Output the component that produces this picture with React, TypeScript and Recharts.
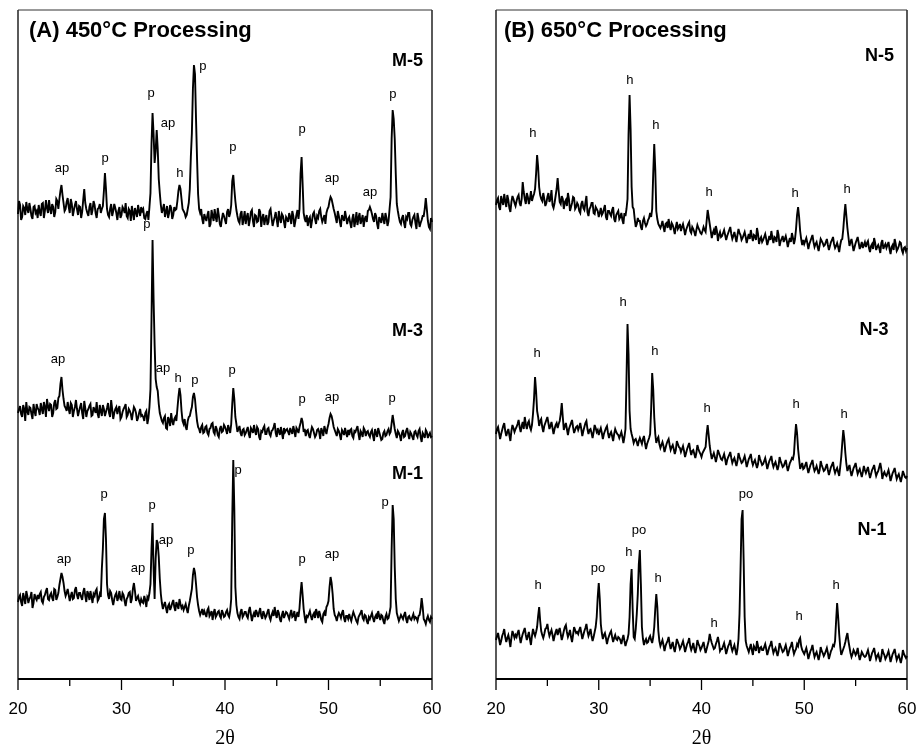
import React from 'react';
import { LineChart, Line, XAxis, YAxis, ReferenceLine, ReferenceDot } from 'recharts';

// 2θ sampling grid (degrees): even steps and the in-between readings
const TWO_THETA = [
  20, 20.2, 20.4, 20.6, 20.8, 21, 21.2, 21.4, 21.6, 21.8,
  22, 22.2, 22.4, 22.6, 22.8, 23, 23.2, 23.4, 23.6, 23.8,
  24, 24.2, 24.4, 24.6, 24.8, 25, 25.2, 25.4, 25.6, 25.8,
  26, 26.2, 26.4, 26.6, 26.8, 27, 27.2, 27.4, 27.6, 27.8,
  28, 28.2, 28.4, 28.6, 28.8, 29, 29.2, 29.4, 29.6, 29.8,
  30, 30.2, 30.4, 30.6, 30.8, 31, 31.2, 31.4, 31.6, 31.8,
  32, 32.2, 32.4, 32.6, 32.8, 33, 33.2, 33.4, 33.6, 33.8,
  34, 34.2, 34.4, 34.6, 34.8, 35, 35.2, 35.4, 35.6, 35.8,
  36, 36.2, 36.4, 36.6, 36.8, 37, 37.2, 37.4, 37.6, 37.8,
  38, 38.2, 38.4, 38.6, 38.8, 39, 39.2, 39.4, 39.6, 39.8,
  40, 40.2, 40.4, 40.6, 40.8, 41, 41.2, 41.4, 41.6, 41.8,
  42, 42.2, 42.4, 42.6, 42.8, 43, 43.2, 43.4, 43.6, 43.8,
  44, 44.2, 44.4, 44.6, 44.8, 45, 45.2, 45.4, 45.6, 45.8,
  46, 46.2, 46.4, 46.6, 46.8, 47, 47.2, 47.4, 47.6, 47.8,
  48, 48.2, 48.4, 48.6, 48.8, 49, 49.2, 49.4, 49.6, 49.8,
  50, 50.2, 50.4, 50.6, 50.8, 51, 51.2, 51.4, 51.6, 51.8,
  52, 52.2, 52.4, 52.6, 52.8, 53, 53.2, 53.4, 53.6, 53.8,
  54, 54.2, 54.4, 54.6, 54.8, 55, 55.2, 55.4, 55.6, 55.8,
  56, 56.2, 56.4, 56.6, 56.8, 57, 57.2, 57.4, 57.6, 57.8,
  58, 58.2, 58.4, 58.6, 58.8, 59, 59.2, 59.4, 59.6, 59.8,
  60,
];
const TWO_THETA_MID = [
  20.1, 20.3, 20.5, 20.7, 20.9, 21.1, 21.3, 21.5, 21.7, 21.9,
  22.1, 22.3, 22.5, 22.7, 22.9, 23.1, 23.3, 23.5, 23.7, 23.9,
  24.1, 24.3, 24.5, 24.7, 24.9, 25.1, 25.3, 25.5, 25.7, 25.9,
  26.1, 26.3, 26.5, 26.7, 26.9, 27.1, 27.3, 27.5, 27.7, 27.9,
  28.1, 28.3, 28.5, 28.7, 28.9, 29.1, 29.3, 29.5, 29.7, 29.9,
  30.1, 30.3, 30.5, 30.7, 30.9, 31.1, 31.3, 31.5, 31.7, 31.9,
  32.1, 32.3, 32.5, 32.7, 32.9, 33.1, 33.3, 33.5, 33.7, 33.9,
  34.1, 34.3, 34.5, 34.7, 34.9, 35.1, 35.3, 35.5, 35.7, 35.9,
  36.1, 36.3, 36.5, 36.7, 36.9, 37.1, 37.3, 37.5, 37.7, 37.9,
  38.1, 38.3, 38.5, 38.7, 38.9, 39.1, 39.3, 39.5, 39.7, 39.9,
  40.1, 40.3, 40.5, 40.7, 40.9, 41.1, 41.3, 41.5, 41.7, 41.9,
  42.1, 42.3, 42.5, 42.7, 42.9, 43.1, 43.3, 43.5, 43.7, 43.9,
  44.1, 44.3, 44.5, 44.7, 44.9, 45.1, 45.3, 45.5, 45.7, 45.9,
  46.1, 46.3, 46.5, 46.7, 46.9, 47.1, 47.3, 47.5, 47.7, 47.9,
  48.1, 48.3, 48.5, 48.7, 48.9, 49.1, 49.3, 49.5, 49.7, 49.9,
  50.1, 50.3, 50.5, 50.7, 50.9, 51.1, 51.3, 51.5, 51.7, 51.9,
  52.1, 52.3, 52.5, 52.7, 52.9, 53.1, 53.3, 53.5, 53.7, 53.9,
  54.1, 54.3, 54.5, 54.7, 54.9, 55.1, 55.3, 55.5, 55.7, 55.9,
  56.1, 56.3, 56.5, 56.7, 56.9, 57.1, 57.3, 57.5, 57.7, 57.9,
  58.1, 58.3, 58.5, 58.7, 58.9, 59.1, 59.3, 59.5, 59.7, 59.9,
];

// Panel A (450°C) intensities, stacked (a.u.)
const M5 = [
  465, 474, 462, 471, 477, 466, 470, 460, 473, 468,
  474, 463, 476, 468, 471, 479, 465, 472, 467, 478,
  480, 494, 476, 470, 481, 466, 475, 469, 478, 464,
  472, 467, 490, 470, 463, 476, 469, 474, 461, 471,
  466, 473, 506, 470, 462, 475, 468, 471, 459, 472,
  464, 470, 476, 461, 468, 473, 459, 467, 474, 463,
  468, 461, 465, 459, 486, 566, 516, 549, 500, 474,
  470, 462, 473, 466, 471, 464, 469, 478, 494, 480,
  468, 462, 470, 490, 546, 614, 560, 485, 466, 460,
  465, 458, 468, 455, 463, 470, 457, 464, 452, 466,
  459, 467, 462, 474, 504, 478, 463, 456, 468, 460,
  455, 466, 459, 469, 452, 463, 458, 467, 461, 454,
  464, 457, 470, 453, 462, 459, 468, 456, 463, 451,
  460, 466, 455, 463, 458, 469, 470, 522, 466, 457,
  453, 462, 458, 467, 455, 461, 470, 457, 464, 466,
  472, 482, 475, 466, 456, 463, 452, 461, 468, 455,
  462, 451, 465, 458, 454, 466, 459, 452, 463, 468,
  472, 465, 457, 463, 450, 459, 466, 455, 461, 458,
  482, 569, 540, 475, 462, 455, 464, 451, 460, 466,
  453, 462, 456, 466, 452, 459, 463, 481, 458, 450,
  457,
];
const M5_MID = [
  478, 459, 473, 464, 470, 476, 463, 472, 466, 461,
  467, 475, 461, 479, 466, 470, 475, 462, 480, 470,
  488, 484, 468, 477, 472, 480, 463, 474, 470, 473,
  461, 479, 476, 466, 472, 464, 478, 466, 470, 475,
  470, 488, 490, 464, 470, 463, 475, 466, 468, 461,
  472, 466, 463, 470, 458, 466, 471, 462, 468, 472,
  470, 460, 468, 472, 535, 545, 528, 530, 486, 466,
  475, 467, 461, 474, 460, 472, 470, 488, 490, 470,
  466, 464, 476, 522, 590, 605, 520, 470, 470, 455,
  461, 464, 452, 469, 458, 462, 471, 455, 460, 463,
  455, 470, 466, 498, 490, 469, 458, 465, 454, 468,
  462, 453, 467, 458, 464, 457, 470, 452, 465, 460,
  454, 468, 461, 458, 467, 452, 461, 465, 457, 462,
  457, 462, 468, 452, 464, 460, 505, 495, 460, 464,
  460, 451, 465, 460, 463, 468, 462, 460, 455, 470,
  478, 480, 470, 461, 468, 457, 464, 458, 462, 460,
  456, 460, 452, 467, 461, 455, 464, 460, 457, 469,
  469, 460, 466, 455, 462, 456, 460, 466, 453, 470,
  540, 560, 505, 468, 457, 461, 456, 462, 466, 455,
  459, 464, 450, 460, 456, 463, 470, 470, 452, 461,
];
const M3 = [
  266, 273, 262, 270, 277, 264, 271, 260, 268, 275,
  269, 276, 265, 272, 280, 268, 274, 266, 279, 271,
  283, 302, 280, 271, 277, 265, 274, 268, 279, 263,
  272, 266, 278, 262, 270, 275, 264, 269, 277, 261,
  268, 274, 263, 271, 266, 279, 260, 270, 265, 273,
  262, 270, 275, 264, 268, 259, 272, 266, 261, 270,
  264, 258, 268, 261, 290, 439, 334, 292, 275, 262,
  256, 263, 250, 259, 266, 254, 262, 270, 291, 268,
  255, 252, 258, 263, 272, 286, 268, 252, 246, 254,
  247, 253, 244, 251, 256, 245, 250, 242, 253, 248,
  252, 245, 250, 255, 291, 262, 247, 253, 243, 250,
  246, 252, 241, 249, 254, 244, 250, 239, 247, 253,
  245, 251, 243, 249, 256, 242, 248, 252, 240, 247,
  250, 244, 248, 253, 242, 249, 252, 261, 247, 243,
  249, 241, 252, 246, 244, 250, 240, 248, 253, 245,
  255, 265, 258, 249, 243, 248, 239, 247, 251, 242,
  244, 250, 241, 247, 253, 239, 246, 251, 243, 248,
  242, 249, 238, 246, 251, 243, 240, 248, 244, 250,
  247, 264, 250, 241, 246, 238, 249, 243, 251, 240,
  245, 239, 248, 242, 250, 237, 244, 249, 241, 246,
  243,
];
const M3_MID = [
  270, 265, 274, 258, 268, 272, 265, 275, 263, 271,
  264, 270, 277, 262, 273, 275, 262, 276, 270, 281,
  295, 289, 273, 268, 270, 276, 262, 272, 270, 268,
  276, 260, 271, 268, 273, 263, 272, 266, 265, 274,
  263, 270, 267, 276, 262, 270, 266, 272, 270, 260,
  267, 272, 262, 270, 265, 266, 270, 258, 266, 263,
  262, 266, 255, 272, 360, 380, 300, 288, 266, 258,
  261, 251, 262, 253, 258, 260, 258, 282, 284, 258,
  260, 249, 262, 268, 282, 280, 258, 250, 252, 246,
  252, 246, 250, 255, 247, 253, 244, 250, 247, 254,
  249, 254, 246, 275, 280, 255, 250, 246, 249, 244,
  249, 245, 251, 246, 248, 252, 242, 248, 251, 245,
  250, 245, 248, 252, 246, 251, 244, 246, 251, 249,
  247, 251, 245, 248, 251, 246, 256, 257, 250, 248,
  244, 247, 250, 242, 249, 247, 251, 243, 249, 251,
  261, 263, 252, 246, 250, 244, 249, 244, 246, 249,
  249, 243, 248, 250, 245, 248, 242, 249, 247, 244,
  247, 243, 250, 242, 247, 239, 246, 243, 248, 245,
  256, 257, 245, 248, 243, 246, 242, 248, 245, 247,
  242, 247, 244, 248, 242, 246, 241, 247, 244, 242,
];
const M1 = [
  77, 84, 73, 81, 88, 76, 82, 71, 85, 79,
  80, 87, 76, 84, 91, 79, 86, 78, 89, 82,
  94, 106, 96, 83, 90, 78, 87, 81, 92, 80,
  86, 79, 91, 77, 85, 88, 76, 83, 90, 80,
  82, 130, 166, 95, 80, 86, 74, 84, 78, 88,
  79, 84, 73, 82, 87, 80, 96, 78, 83, 75,
  77, 83, 72, 80, 95, 156, 80, 139, 122, 85,
  70, 77, 66, 75, 72, 79, 68, 74, 80, 71,
  69, 75, 66, 78, 90, 111, 95, 74, 64, 70,
  68, 62, 71, 65, 59, 70, 64, 68, 61, 66,
  63, 69, 62, 80, 219, 92, 66, 60, 70, 64,
  67, 61, 72, 58, 66, 69, 62, 71, 60, 65,
  63, 70, 59, 67, 72, 61, 66, 57, 68, 64,
  66, 60, 69, 63, 58, 67, 71, 97, 70, 56,
  62, 68, 59, 66, 70, 61, 64, 57, 67, 72,
  78, 102, 85, 64, 58, 66, 61, 69, 57, 63,
  65, 58, 67, 61, 56, 64, 69, 59, 63, 55,
  60, 66, 57, 64, 68, 59, 63, 55, 65, 61,
  72, 174, 112, 66, 58, 64, 60, 67, 56, 63,
  59, 65, 62, 58, 64, 81, 60, 55, 63, 57,
  60,
];
const M1_MID = [
  82, 77, 86, 75, 83, 80, 87, 76, 81, 84,
  85, 78, 82, 88, 80, 84, 81, 90, 79, 86,
  100, 102, 88, 86, 84, 83, 80, 89, 84, 86,
  82, 87, 83, 88, 79, 82, 85, 88, 78, 85,
  110, 160, 140, 84, 88, 79, 80, 86, 82, 80,
  86, 78, 80, 86, 76, 90, 88, 81, 78, 80,
  76, 79, 82, 86, 130, 110, 120, 136, 100, 76,
  74, 71, 73, 69, 76, 72, 77, 70, 75, 73,
  72, 70, 73, 84, 104, 106, 82, 68, 67, 64,
  65, 69, 63, 68, 66, 62, 67, 63, 69, 62,
  67, 64, 68, 160, 170, 74, 62, 67, 62, 67,
  63, 68, 65, 63, 62, 66, 67, 63, 68, 61,
  67, 62, 64, 63, 65, 69, 60, 64, 61, 67,
  63, 65, 62, 68, 63, 62, 86, 84, 62, 63,
  65, 63, 64, 61, 66, 68, 59, 65, 63, 74,
  92, 96, 70, 62, 63, 64, 66, 61, 63, 60,
  61, 63, 64, 58, 62, 66, 61, 64, 58, 62,
  63, 61, 62, 60, 63, 64, 58, 62, 60, 66,
  130, 160, 80, 62, 61, 62, 64, 60, 62, 60,
  62, 60, 61, 63, 70, 72, 58, 60, 59, 62,
];

// Panel B (650°C) intensities, stacked (a.u.)
const N5 = [
  474, 481, 469, 478, 485, 472, 479, 467, 483, 476,
  478, 484, 473, 497, 480, 486, 475, 488, 482, 490,
  524, 492, 480, 486, 473, 482, 477, 489, 471, 483,
  501, 477, 483, 470, 479, 486, 468, 476, 481, 472,
  474, 466, 478, 469, 483, 463, 472, 476, 465, 470,
  462, 471, 466, 474, 459, 468, 463, 472, 457, 466,
  460, 466, 455, 463, 480, 584, 492, 470, 452, 461,
  458, 449, 461, 453, 459, 466, 470, 535, 468, 455,
  451, 458, 447, 456, 460, 449, 454, 445, 457, 452,
  448, 455, 444, 452, 457, 446, 450, 443, 454, 449,
  445, 452, 447, 469, 455, 441, 449, 453, 438, 447,
  443, 449, 439, 446, 452, 440, 447, 437, 450, 444,
  441, 447, 436, 445, 449, 438, 443, 451, 435, 442,
  439, 445, 434, 443, 448, 436, 441, 449, 433, 440,
  437, 443, 432, 441, 446, 435, 450, 472, 448, 434,
  435, 441, 430, 438, 444, 432, 437, 428, 440, 436,
  434, 440, 429, 437, 442, 431, 436, 427, 439, 450,
  475, 451, 433, 440, 428, 436, 442, 430, 437, 434,
  432, 438, 427, 435, 441, 429, 434, 426, 439, 433,
  431, 437, 425, 434, 440, 428, 433, 436, 426, 432,
  431,
];
const N5_MID = [
  479, 472, 483, 474, 478, 484, 471, 477, 480, 473,
  482, 476, 480, 487, 475, 482, 480, 478, 485, 505,
  512, 484, 478, 480, 476, 486, 480, 474, 476, 490,
  488, 475, 480, 477, 473, 480, 472, 482, 470, 476,
  468, 475, 471, 476, 467, 470, 476, 466, 472, 468,
  466, 464, 470, 462, 468, 465, 469, 460, 464, 468,
  462, 459, 466, 470, 545, 550, 472, 460, 455, 458,
  452, 458, 456, 455, 461, 462, 505, 510, 460, 453,
  454, 452, 455, 451, 453, 456, 450, 452, 450, 455,
  452, 450, 449, 455, 448, 452, 447, 449, 451, 446,
  448, 449, 458, 462, 448, 446, 444, 448, 444, 442,
  446, 444, 443, 449, 445, 443, 442, 444, 446, 439,
  444, 442, 441, 440, 443, 444, 439, 445, 440, 437,
  442, 440, 438, 439, 441, 442, 437, 444, 438, 443,
  440, 438, 437, 437, 441, 440, 464, 462, 440, 439,
  438, 436, 435, 441, 437, 435, 432, 434, 438, 433,
  437, 434, 433, 439, 435, 433, 432, 434, 440, 464,
  463, 442, 437, 434, 432, 439, 436, 433, 431, 437,
  436, 431, 433, 430, 436, 432, 431, 436, 430, 435,
  434, 430, 432, 429, 435, 430, 437, 429, 431, 428,
];
const N3 = [
  245, 252, 240, 249, 256, 243, 250, 238, 254, 247,
  252, 259, 247, 257, 262, 250, 258, 249, 265, 302,
  268, 253, 260, 247, 256, 262, 250, 257, 245, 254,
  251, 258, 276, 249, 256, 244, 253, 259, 246, 252,
  249, 256, 243, 252, 258, 245, 250, 241, 254, 247,
  244, 251, 240, 248, 253, 241, 247, 238, 250, 245,
  241, 247, 236, 250, 355, 268, 245, 236, 240, 233,
  241, 235, 243, 230, 238, 245, 306, 262, 236, 242,
  231, 237, 227, 235, 240, 229, 234, 225, 238, 232,
  227, 233, 222, 230, 236, 224, 229, 221, 234, 227,
  222, 228, 232, 254, 233, 220, 226, 217, 229, 223,
  219, 225, 214, 222, 227, 216, 221, 213, 226, 219,
  217, 223, 212, 220, 225, 214, 219, 211, 224, 217,
  215, 221, 210, 218, 223, 212, 217, 209, 222, 215,
  213, 219, 208, 216, 221, 225, 255, 230, 210, 216,
  211, 217, 206, 214, 219, 208, 213, 205, 218, 211,
  209, 215, 204, 212, 217, 206, 211, 203, 222, 249,
  226, 208, 214, 203, 211, 216, 205, 210, 202, 213,
  206, 212, 201, 209, 214, 203, 208, 216, 200, 207,
  203, 209, 198, 206, 211, 200, 205, 197, 208, 202,
  203,
];
const N3_MID = [
  250, 246, 245, 253, 248, 247, 244, 248, 251, 250,
  255, 252, 253, 250, 255, 256, 252, 254, 280, 288,
  262, 258, 252, 253, 259, 256, 253, 251, 250, 256,
  255, 265, 262, 253, 250, 250, 256, 252, 249, 253,
  252, 250, 248, 256, 250, 249, 246, 247, 251, 249,
  248, 246, 245, 251, 246, 245, 243, 245, 247, 244,
  244, 242, 242, 300, 325, 250, 241, 239, 237, 238,
  238, 240, 236, 235, 241, 270, 290, 245, 240, 235,
  234, 233, 231, 238, 234, 232, 230, 229, 235, 231,
  230, 228, 226, 233, 229, 228, 225, 226, 230, 225,
  226, 230, 245, 244, 226, 223, 222, 222, 226, 220,
  222, 220, 219, 224, 221, 219, 217, 218, 222, 216,
  220, 218, 216, 222, 218, 217, 215, 215, 220, 214,
  218, 216, 214, 220, 216, 215, 213, 213, 218, 212,
  216, 213, 212, 218, 220, 242, 246, 220, 213, 210,
  214, 211, 210, 216, 212, 210, 209, 209, 214, 208,
  212, 209, 208, 214, 210, 209, 207, 212, 236, 240,
  215, 211, 208, 207, 213, 210, 208, 206, 207, 209,
  209, 206, 205, 211, 208, 206, 212, 210, 205, 204,
  206, 204, 202, 208, 205, 203, 201, 202, 205, 201,
];
const N1 = [
  39, 46, 34, 43, 50, 37, 44, 32, 48, 41,
  42, 49, 36, 45, 51, 39, 47, 34, 50, 43,
  52, 72, 48, 41, 50, 55, 43, 49, 38, 47,
  44, 51, 39, 48, 54, 42, 49, 37, 52, 46,
  45, 52, 40, 48, 55, 43, 50, 38, 47, 62,
  96, 55, 40, 46, 35, 43, 48, 37, 44, 39,
  41, 35, 44, 33, 40, 62, 110, 42, 50, 85,
  129, 52, 34, 40, 37, 43, 36, 52, 85, 48,
  33, 39, 28, 36, 42, 30, 37, 27, 40, 34,
  32, 38, 27, 35, 41, 29, 36, 26, 39, 33,
  31, 37, 26, 34, 45, 36, 30, 35, 42, 28,
  30, 36, 25, 33, 39, 28, 34, 24, 40, 110,
  169, 62, 33, 27, 35, 24, 31, 38, 26, 32,
  29, 35, 24, 32, 38, 26, 31, 23, 36, 30,
  28, 34, 23, 31, 37, 25, 30, 33, 41, 29,
  25, 31, 20, 28, 34, 22, 27, 19, 32, 26,
  25, 31, 20, 28, 34, 38, 76, 45, 24, 30,
  37, 46, 32, 22, 29, 24, 31, 19, 27, 23,
  23, 29, 18, 26, 31, 20, 25, 17, 30, 24,
  22, 28, 17, 25, 30, 19, 24, 16, 29, 23,
  23,
];
const N1_MID = [
  43, 40, 38, 46, 42, 41, 39, 41, 45, 44,
  46, 42, 41, 48, 44, 43, 40, 43, 46, 47,
  63, 58, 44, 45, 51, 48, 46, 44, 43, 50,
  48, 45, 43, 52, 47, 45, 42, 44, 49, 47,
  49, 46, 44, 51, 48, 46, 43, 42, 52, 82,
  80, 46, 44, 41, 40, 46, 42, 41, 40, 42,
  39, 40, 38, 37, 45, 95, 70, 40, 65, 115,
  95, 40, 38, 36, 41, 39, 42, 70, 72, 38,
  36, 34, 33, 38, 35, 34, 31, 33, 37, 30,
  35, 33, 31, 37, 33, 32, 30, 31, 35, 29,
  34, 31, 30, 38, 40, 33, 31, 38, 36, 30,
  33, 31, 29, 35, 32, 31, 29, 30, 65, 160,
  120, 38, 30, 31, 29, 33, 28, 33, 31, 29,
  32, 30, 28, 34, 31, 29, 27, 28, 33, 27,
  31, 29, 27, 33, 30, 28, 35, 39, 33, 27,
  28, 26, 24, 30, 27, 25, 23, 24, 28, 23,
  28, 26, 24, 30, 33, 58, 62, 32, 27, 33,
  42, 38, 26, 25, 27, 26, 24, 23, 25, 22,
  26, 24, 22, 28, 25, 23, 21, 22, 26, 20,
  25, 23, 21, 27, 24, 22, 20, 21, 25, 21,
];

const X_TICKS = [20, 25, 30, 35, 40, 45, 50, 55, 60];
const MAJOR_TICKS = [20, 30, 40, 50, 60];

type Note = { x: number; y: number; text: string };

// phase labels: p, ap, h, po
const PANEL_A_PEAKS: Note[] = [
  { x: 24.25, y: 512, text: 'ap' }, { x: 28.41, y: 522, text: 'p' },
  { x: 32.85, y: 587, text: 'p' }, { x: 34.49, y: 557, text: 'ap' },
  { x: 35.65, y: 507, text: 'h' }, { x: 37.87, y: 614, text: 'p' },
  { x: 40.77, y: 533, text: 'p' }, { x: 47.44, y: 551, text: 'p' },
  { x: 50.34, y: 502, text: 'ap' }, { x: 54.01, y: 488, text: 'ap' },
  { x: 56.23, y: 586, text: 'p' },
  { x: 32.46, y: 456, text: 'p' }, { x: 23.86, y: 321, text: 'ap' },
  { x: 34.01, y: 312, text: 'ap' }, { x: 35.46, y: 302, text: 'h' },
  { x: 37.1, y: 300, text: 'p' }, { x: 40.68, y: 310, text: 'p' },
  { x: 47.44, y: 281, text: 'p' }, { x: 50.34, y: 283, text: 'ap' },
  { x: 56.14, y: 282, text: 'p' },
  { x: 24.44, y: 121, text: 'ap' }, { x: 28.31, y: 186, text: 'p' },
  { x: 31.59, y: 112, text: 'ap' }, { x: 32.95, y: 175, text: 'p' },
  { x: 34.3, y: 140, text: 'ap' }, { x: 36.71, y: 130, text: 'p' },
  { x: 41.26, y: 210, text: 'p' }, { x: 47.44, y: 121, text: 'p' },
  { x: 50.34, y: 126, text: 'ap' }, { x: 55.46, y: 178, text: 'p' },
];
const PANEL_B_PEAKS: Note[] = [
  { x: 23.6, y: 547, text: 'h' }, { x: 33.04, y: 600, text: 'h' },
  { x: 35.57, y: 555, text: 'h' }, { x: 40.73, y: 488, text: 'h' },
  { x: 49.1, y: 487, text: 'h' }, { x: 54.16, y: 491, text: 'h' },
  { x: 32.36, y: 378, text: 'h' }, { x: 23.99, y: 327, text: 'h' },
  { x: 35.47, y: 329, text: 'h' }, { x: 40.54, y: 272, text: 'h' },
  { x: 49.2, y: 276, text: 'h' }, { x: 53.87, y: 266, text: 'h' },
  { x: 24.09, y: 95, text: 'h' }, { x: 29.93, y: 112, text: 'po' },
  { x: 32.94, y: 128, text: 'h' }, { x: 33.92, y: 150, text: 'po' },
  { x: 35.77, y: 102, text: 'h' }, { x: 41.22, y: 57, text: 'h' },
  { x: 44.33, y: 186, text: 'po' }, { x: 49.49, y: 64, text: 'h' },
  { x: 53.09, y: 95, text: 'h' },
];
const PANEL_A_SAMPLES: Note[] = [
  { x: 59.13, y: 619, text: 'M-5' },
  { x: 59.13, y: 349, text: 'M-3' },
  { x: 59.13, y: 206, text: 'M-1' },
];
const PANEL_B_SAMPLES: Note[] = [
  { x: 58.73, y: 624, text: 'N-5' },
  { x: 58.2, y: 350, text: 'N-3' },
  { x: 58.0, y: 150, text: 'N-1' },
];

const SANS = "'Liberation Sans', Arial, Helvetica, sans-serif";
const TICK_SIZE = 11;
const TICK_MARGIN = 12;

const AxisTick = (props: any) => {
  const { x, y, payload } = props;
  const major = MAJOR_TICKS.includes(payload.value);
  const axisY = y - TICK_SIZE - TICK_MARGIN;
  return (
    <g>
      <line x1={x} x2={x} y1={axisY} y2={axisY + (major ? 11 : 7)} stroke="#000" strokeWidth={1.3} />
      {major && (
        <text x={x} y={y} dy="0.71em" textAnchor="middle" fontSize={17} fontFamily={SANS} fill="#000">
          {payload.value}
        </text>
      )}
    </g>
  );
};

type PanelProps = {
  series: number[][];
  mids: number[][];
  peaks: Note[];
  samples: Note[];
  width: number;
  marginLeft: number;
  marginRight: number;
};

const buildRows = (series: number[][], mids: number[][]) => {
  const rows: { x: number; s5: number; s3: number; s1: number }[] = [];
  TWO_THETA.forEach((x, i) => {
    rows.push({ x, s5: series[0][i], s3: series[1][i], s1: series[2][i] });
    if (i < TWO_THETA_MID.length) {
      rows.push({ x: TWO_THETA_MID[i], s5: mids[0][i], s3: mids[1][i], s1: mids[2][i] });
    }
  });
  return rows;
};

const Panel = ({ series, mids, peaks, samples, width, marginLeft, marginRight }: PanelProps) => {
  const data = buildRows(series, mids);
  return (
    <LineChart
      width={width}
      height={747}
      data={data}
      margin={{ top: 10, right: marginRight, bottom: 0, left: marginLeft }}
    >
      <XAxis
        dataKey="x"
        type="number"
        domain={[20, 60]}
        ticks={X_TICKS}
        interval={0}
        height={68}
        tickLine={false}
        tickSize={TICK_SIZE}
        tickMargin={TICK_MARGIN}
        tick={<AxisTick />}
        axisLine={{ stroke: '#000', strokeWidth: 2 }}
        label={{ value: '2θ', position: 'insideBottom', offset: 3, fontSize: 20, fontFamily: "'Liberation Serif', 'Times New Roman', serif", fill: '#000' }}
      />
      <YAxis type="number" domain={[0, 669]} hide />
      <ReferenceLine x={20} stroke="#000" strokeWidth={1.3} />
      <ReferenceLine x={60} stroke="#000" strokeWidth={1.3} />
      <ReferenceLine y={669} stroke="#333" strokeWidth={1} />
      {['s5', 's3', 's1'].map((k) => (
        <Line
          key={k}
          dataKey={k}
          type="linear"
          stroke="#000"
          strokeWidth={1.9}
          strokeLinejoin="miter"
          dot={false}
          isAnimationActive={false}
        />
      ))}
      {peaks.map((p, i) => (
        <ReferenceDot
          key={'p' + i}
          x={p.x}
          y={p.y}
          r={0}
          fill="none"
          stroke="none"
          label={{ value: p.text, position: 'center', fontSize: 13, fontFamily: SANS, fill: '#000' }}
        />
      ))}
      {samples.map((s, i) => (
        <ReferenceDot
          key={'s' + i}
          x={s.x}
          y={s.y}
          r={0}
          fill="none"
          stroke="none"
          label={{ value: s.text, position: 'left', offset: 0, fontSize: 18, fontWeight: 'bold', fontFamily: SANS, fill: '#000' }}
        />
      ))}
    </LineChart>
  );
};

const titleStyle: React.CSSProperties = {
  position: 'absolute',
  top: 19,
  fontSize: 22,
  lineHeight: '22px',
  fontWeight: 'bold',
  fontFamily: SANS,
  color: '#000',
  whiteSpace: 'nowrap',
};

export default function App() {
  return (
    <div style={{ position: 'absolute', left: 0, top: 0, width: 917, height: 747, background: '#fff', overflow: 'hidden', filter: 'grayscale(100%)' }}>
      <div style={{ position: 'absolute', left: 0, top: 0 }}>
        <Panel series={[M5, M3, M1]} mids={[M5_MID, M3_MID, M1_MID]} peaks={PANEL_A_PEAKS} samples={PANEL_A_SAMPLES} width={460} marginLeft={18} marginRight={28} />
      </div>
      <div style={{ position: 'absolute', left: 460, top: 0 }}>
        <Panel series={[N5, N3, N1]} mids={[N5_MID, N3_MID, N1_MID]} peaks={PANEL_B_PEAKS} samples={PANEL_B_SAMPLES} width={457} marginLeft={36} marginRight={10} />
      </div>
      <div style={{ ...titleStyle, left: 29 }}>(A) 450°C Processing</div>
      <div style={{ ...titleStyle, left: 504 }}>(B) 650°C Processing</div>
    </div>
  );
}
